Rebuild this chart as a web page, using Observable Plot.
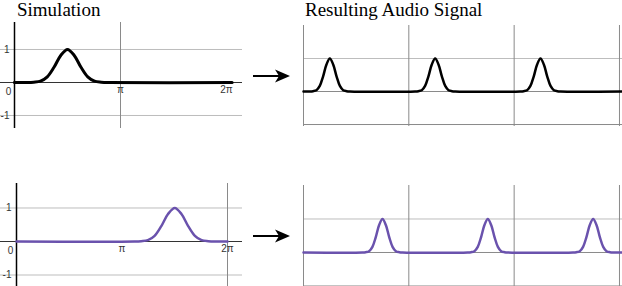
<!DOCTYPE html>
<html><head><meta charset="utf-8">
<script src="https://cdn.jsdelivr.net/npm/d3@7"></script>
<script src="https://cdn.jsdelivr.net/npm/@observablehq/plot@0.6"></script>
<style>
body{margin:0;background:#fff;}
#wrap{position:relative;width:622px;height:286px;overflow:hidden;background:#fff;}
.p{position:absolute;}
.p svg{display:block;overflow:visible;}
.title{position:absolute;font-family:"Liberation Serif","Times New Roman",serif;font-size:19px;line-height:1;color:#000;white-space:nowrap;}
.arrow{position:absolute;}
</style></head><body>
<div id="wrap">
  <div class="title" style="left:17px;top:0px">Simulation</div>
  <div class="title" style="left:305px;top:0px">Resulting Audio Signal</div>
  <svg class="arrow" style="left:253px;top:69px" width="38" height="14"><path d="M0,7H28" stroke="#000" stroke-width="2"/><path d="M37,7L22,0.5L26,7L22,13.5Z" fill="#000"/></svg>
  <svg class="arrow" style="left:253px;top:229px" width="38" height="14"><path d="M0,7H28" stroke="#000" stroke-width="2"/><path d="M37,7L22,0.5L26,7L22,13.5Z" fill="#000"/></svg>
</div>
<script>
const PI = Math.PI;
// Pulse shape: offsets (radians) from the peak, and heights
const pulseOffsets = [-1.2, -1.0, -0.8, -0.6, -0.4, -0.2, 0, 0.2, 0.4, 0.6, 0.8, 1.0, 1.2];
const pulseHeights = [0, 0.01, 0.04, 0.17, 0.46, 0.82, 1, 0.82, 0.46, 0.17, 0.04, 0.01, 0];
// Simulation (one period, 0..2π)
const simPeaksTop = [PI / 2];
const simPeaksBottom = [3 * PI / 2];
const simEndTop = 6.45;
const simEndBottom = 2 * PI;
// Resulting audio signal (three periods)
const audioPeaksTop = [PI / 2, 5 * PI / 2, 9 * PI / 2];
const audioPeaksBottom = [3 * PI / 2, 7 * PI / 2, 11 * PI / 2];
const audioEnd = 19.05;
const audioGrid = [0, 2 * PI, 4 * PI, 6 * PI];
const audioHGrid = [1, 0, -1];
// Tick labels
const yTickValues = [1, -1];
const yTickLabels = ["1", "-1"];
const xTickValues = [PI, 2 * PI];
const xTickLabels = ["π", "2π"];
const originLabel = ["0"];

const black = "#000";
const purple = "#6a52ad";

function wave(peaks, end) {
  const pts = [{x: 0, y: 0}];
  for (const p of peaks) pulseOffsets.forEach((o, i) => pts.push({x: p + o, y: pulseHeights[i]}));
  pts.push({x: end, y: 0});
  return pts;
}

const labelFont = {fontFamily: "Arial, 'Liberation Sans', sans-serif", fontSize: 10, fill: "#333"};

function simPanel({peaks, end, color, width, vgrid, xdom, ydom, w, h}) {
  const yt = yTickValues.map((v, i) => ({v, l: yTickLabels[i]}));
  const xt = xTickValues.map((v, i) => ({v, l: xTickLabels[i]}));
  return Plot.plot({
    width: w, height: h, margin: 0,
    x: {domain: xdom}, y: {domain: ydom},
    axis: null,
    marks: [
      Plot.ruleY(yTickValues, {stroke: "#bdbdbd", strokeWidth: 1}),
      Plot.ruleX(vgrid, {stroke: "#8a8a8a", strokeWidth: 1}),
      Plot.ruleY([0], {stroke: "#333", strokeWidth: 1.2}),
      Plot.ruleX([0], {stroke: "#000", strokeWidth: 1.5}),
      Plot.line(wave(peaks, end), {x: "x", y: "y", stroke: color, strokeWidth: width, curve: "catmull-rom"}),
      Plot.text(yt, {x: () => 0, y: "v", text: "l", textAnchor: "end", dx: -5, ...labelFont}),
      Plot.text(originLabel, {x: () => 0, y: () => 0, text: d => d, dx: -6, dy: 9, ...labelFont}),
      Plot.text(xt, {x: "v", y: () => 0, text: "l", dy: 7, ...labelFont})
    ]
  });
}

function audioPanel({peaks, color, width, ydom, w, h}) {
  return Plot.plot({
    width: w, height: h, margin: 0,
    x: {domain: [0, 19.03]}, y: {domain: ydom},
    axis: null,
    marks: [
      Plot.ruleY(audioHGrid.filter(v => v === 1), {stroke: "#bdbdbd", strokeWidth: 1}),
      Plot.ruleY(audioHGrid.filter(v => v !== 1), {stroke: "#8a8a8a", strokeWidth: 1}),
      Plot.ruleX(audioGrid, {stroke: "#8a8a8a", strokeWidth: 1}),
      Plot.line(wave(peaks, audioEnd), {x: "x", y: "y", stroke: color, strokeWidth: width, curve: "catmull-rom"})
    ]
  });
}

const wrap = document.getElementById("wrap");
function place(el, left, top) {
  const d = document.createElement("div");
  d.className = "p";
  d.style.left = left + "px";
  d.style.top = top + "px";
  d.appendChild(el);
  wrap.appendChild(d);
}

const kTop = 212 / (2 * PI);
place(simPanel({peaks: simPeaksTop, end: simEndTop, color: black, width: 3, vgrid: [PI],
  xdom: [-14 / kTop, 228 / kTop], ydom: [-1.394, 1.818], w: 242, h: 106}), 0, 22);

const kBot = 211 / (2 * PI);
place(simPanel({peaks: simPeaksBottom, end: simEndBottom, color: purple, width: 2.5, vgrid: [2 * PI],
  xdom: [-16 / kBot, 226 / kBot], ydom: [-1.343, 1.731], w: 242, h: 103}), 0, 183);

place(audioPanel({peaks: audioPeaksTop, color: black, width: 2.5, ydom: [-1.06, 2], w: 319, h: 101}), 303, 25);
place(audioPanel({peaks: audioPeaksBottom, color: purple, width: 2.5, ydom: [-1.015, 2], w: 319, h: 101}), 303, 185);
</script>
</body></html>
